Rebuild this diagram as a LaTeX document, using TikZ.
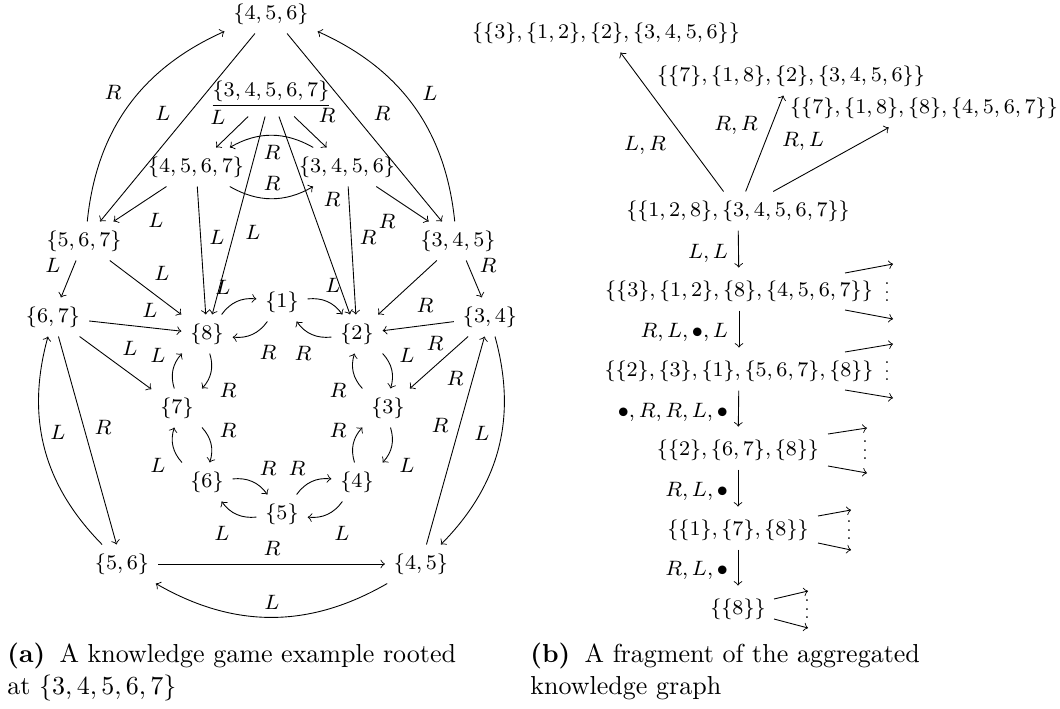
\RequirePackage{fix-cm}
\documentclass[tikz,border=0pt]{standalone}
\usepackage{graphicx}
\usetikzlibrary{calc}
\begin{document}
\begin{tikzpicture}[x=0.3846pt,y=-0.3846pt,line width=0.34pt,
  every node/.style={font=\fontsize{8}{10}\selectfont},
  lbl/.style={},
  captext/.style={anchor=north west,align=left,inner sep=0pt,font=\normalsize},
  chainarr/.style={->,shorten >=1.5pt},
  dotsnode/.style={inner sep=0pt,anchor=south}]
\useasboundingbox (0,0) rectangle (1060,709);

% ---------- (a) knowledge game ----------
\node (n456) at (271,14) {$\{4,5,6\}$};
\node[anchor=base] (root) at (271,97) {$\underline{\{3,4,5,6,7\}}$};
\node (n4567) at (196,167) {$\{4,5,6,7\}$};
\node (n3456) at (347,167) {$\{3,4,5,6\}$};
\node (n567) at (84,241) {$\{5,6,7\}$};
\node (n345) at (458,241) {$\{3,4,5\}$};
\node (n67) at (53,317) {$\{6,7\}$};
\node (n34) at (490,317) {$\{3,4\}$};
\node (n8) at (207,334) {$\{8\}$};
\node (n1) at (282,302) {$\{1\}$};
\node (n2) at (357,334) {$\{2\}$};
\node (n7) at (177,408) {$\{7\}$};
\node (n3) at (388,408) {$\{3\}$};
\node (n6) at (207,482) {$\{6\}$};
\node (n4) at (357,482) {$\{4\}$};
\node (n5) at (282,514) {$\{5\}$};
\node (n56) at (122,564) {$\{5,6\}$};
\node (n45) at (421,564) {$\{4,5\}$};

\draw[->] (n456) -- (n567) node[lbl] at (163,113) {$L$};
\draw[->] (n456) -- (n345) node[lbl] at (382,113) {$R$};
\draw[->] (n567) to[bend left] (n456) node[lbl] at (113,92) {$R$};
\draw[->] (n345) to[bend right] (n456) node[lbl] at (430,93) {$L$};
\draw[->] (root) -- (n4567) node[lbl] at (218,117) {$L$};
\draw[->] (root) -- (n3456) node[lbl] at (327,115) {$R$};
\draw[->] (n3456) to[bend right] (n4567) node[lbl] at (272,152) {$R$};
\draw[->] (n4567) to[bend right] (n3456) node[lbl] at (272,183) {$R$};
\draw[->] (root) -- (n8) node[lbl] at (253,232) {$L$};
\draw[->] (root) -- (n2) node[lbl] at (332,199) {$R$};
\draw[->] (n4567) -- (n8) node[lbl] at (217,237) {$L$};
\draw[->] (n3456) -- (n2) node[lbl] at (368,237) {$R$};
\draw[->] (n4567) -- (n567) node[lbl] at (156,220) {$L$};
\draw[->] (n3456) -- (n345) node[lbl] at (387,221) {$R$};
\draw[->] (n567) -- (n67) node[lbl] at (53,265) {$L$};
\draw[->] (n567) -- (n8) node[lbl] at (162,273) {$L$};
\draw[->] (n345) -- (n34) node[lbl] at (488,265) {$R$};
\draw[->] (n345) -- (n2) node[lbl] at (425,305) {$R$};
\draw[->] (n67) -- (n8) node[lbl] at (150,310) {$L$};
\draw[->] (n34) -- (n2) node[lbl] at (435,343) {$R$};
\draw[->] (n67) -- (n7) node[lbl] at (130,348) {$L$};
\draw[->] (n34) -- (n3) node[lbl] at (455,378) {$R$};
\draw[->] (n67) -- (n56) node[lbl] at (103,427) {$R$};
\draw[->] (n56) to[bend left] (n67) node[lbl] at (58,432) {$L$};
\draw[->] (n45) -- (n34) node[lbl] at (440,425) {$R$};
\draw[->] (n34) to[bend left] (n45) node[lbl] at (482,433) {$L$};
\draw[->] (n56) -- (n45) node[lbl] at (272,548) {$R$};
\draw[->] (n45) to[bend left] (n56) node[lbl] at (272,602) {$L$};

\draw[->] (n8) to[bend left] (n1) node[lbl] at (223,287) {$L$};
\draw[->] (n1) to[bend left] (n2) node[lbl] at (333,285) {$L$};
\draw[->] (n1) to[bend left] (n8) node[lbl] at (268,352) {$R$};
\draw[->] (n2) to[bend left] (n1) node[lbl] at (303,353) {$R$};
\draw[->] (n8) to[bend left] (n7) node[lbl] at (228,390) {$R$};
\draw[->] (n7) to[bend left] (n8) node[lbl] at (158,355) {$L$};
\draw[->] (n2) to[bend left] (n3) node[lbl] at (407,355) {$L$};
\draw[->] (n3) to[bend left] (n2) node[lbl] at (338,390) {$R$};
\draw[->] (n7) to[bend left] (n6) node[lbl] at (228,430) {$R$};
\draw[->] (n6) to[bend left] (n7) node[lbl] at (158,465) {$L$};
\draw[->] (n3) to[bend left] (n4) node[lbl] at (407,465) {$L$};
\draw[->] (n4) to[bend left] (n3) node[lbl] at (338,430) {$R$};
\draw[->] (n6) to[bend left] (n5) node[lbl] at (268,468) {$R$};
\draw[->] (n5) to[bend left] (n6) node[lbl] at (222,533) {$L$};
\draw[->] (n5) to[bend left] (n4) node[lbl] at (297,468) {$R$};
\draw[->] (n4) to[bend left] (n5) node[lbl] at (342,533) {$L$};

% ---------- (b) aggregated knowledge graph ----------
\node (r0) at (738,211) {$\{\{1,2,8\},\{3,4,5,6,7\}\}$};
\node (t1) at (606,33) {$\{\{3\},\{1,2\},\{2\},\{3,4,5,6\}\}$};
\node (t2) at (791,76) {$\{\{7\},\{1,8\},\{2\},\{3,4,5,6\}\}$};
\node (t3) at (924,108) {$\{\{7\},\{1,8\},\{8\},\{4,5,6,7\}\}$};
\node (m1) at (739,291) {$\{\{3\},\{1,2\},\{8\},\{4,5,6,7\}\}$};
\node (m2) at (739,371) {$\{\{2\},\{3\},\{1\},\{5,6,7\},\{8\}\}$};
\node (m3) at (738,450) {$\{\{2\},\{6,7\},\{8\}\}$};
\node (m4) at (738,530) {$\{\{1\},\{7\},\{8\}\}$};
\node (m5) at (738,609) {$\{\{8\}\}$};

\draw[->] (r0) -- (t1) node[lbl,anchor=base] at (645,151) {$L,R$};
\draw[->] (r0) -- (t2) node[lbl,anchor=base] at (736,131) {$R,R$};
\draw[->] (r0) -- (t3) node[lbl,anchor=base] at (803,147) {$R,L$};

\draw[chainarr] (r0) -- (m1) node[lbl,anchor=base east] at (737,258) {$L,L$};
\draw[chainarr] (m1) -- (m2) node[lbl,anchor=base east] at (737,337) {$R,L,\bullet,L$};
\draw[chainarr] (m2) -- (m3) node[lbl,anchor=base east] at (737,417) {$\bullet,R,R,L,\bullet$};
\draw[chainarr] (m3) -- (m4) node[lbl,anchor=base east] at (737,496) {$R,L,\bullet$};
\draw[chainarr] (m4) -- (m5) node[lbl,anchor=base east] at (737,575) {$R,L,\bullet$};

% stubs
\coordinate (m1u) at ($(m1)+(154,-27)$);
\coordinate (m1d) at ($(m1)+(154,28)$);
\draw[->] ($(m1)+(106,-18)$) -- (m1u);
\draw[->] ($(m1)+(106,19)$) -- (m1d);
\node[dotsnode] (d1) at ($(m1)+(148,11)$) {\scalebox{0.8}{$\vdots$}};

\coordinate (m2u) at ($(m2)+(154,-27)$);
\coordinate (m2d) at ($(m2)+(154,27)$);
\draw[->] ($(m2)+(106,-19)$) -- (m2u);
\draw[->] ($(m2)+(106,19)$) -- (m2d);
\node[dotsnode] (d2) at ($(m2)+(148,10)$) {\scalebox{0.8}{$\vdots$}};

\coordinate (m3u) at ($(m3)+(129,-22)$);
\coordinate (m3d) at ($(m3)+(129,23)$);
\draw[->] ($(m3)+(90,-16)$) -- (m3u);
\draw[->] ($(m3)+(90,16)$) -- (m3d);
\node[dotsnode] (d3) at ($(m3)+(127,10)$) {\scalebox{0.8}{$\vdots$}};

\coordinate (m4u) at ($(m4)+(113,-20)$);
\coordinate (m4d) at ($(m4)+(113,20)$);
\draw[->] ($(m4)+(80,-14)$) -- (m4u);
\draw[->] ($(m4)+(80,13)$) -- (m4d);
\node[dotsnode] (d4) at ($(m4)+(111,10)$) {\scalebox{0.8}{$\vdots$}};

\coordinate (m5u) at ($(m5)+(70,-18)$);
\coordinate (m5d) at ($(m5)+(70,19)$);
\draw[->] ($(m5)+(36,-10)$) -- (m5u);
\draw[->] ($(m5)+(36,10)$) -- (m5d);
\node[dotsnode] (d5) at ($(m5)+(69,10)$) {\scalebox{0.8}{$\vdots$}};

% captions
\node[captext] (capa) at (7,643) {\textbf{(a)}\hspace{0.55em}A knowledge game example rooted\\ at $\{3,4,5,6,7\}$};
\node[captext] (capb) at (530,643) {\textbf{(b)}\hspace{0.55em}A fragment of the aggregated\\ knowledge graph};
\end{tikzpicture}
\end{document}
